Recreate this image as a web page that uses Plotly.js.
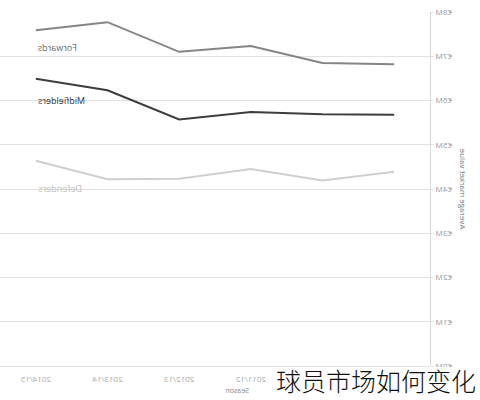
<!DOCTYPE html>
<html>
<head>
<meta charset="utf-8">
<script src="https://cdn.plot.ly/plotly-3.0.1.min.js"></script>
<style>
  body { margin: 0; background: #fff; }
  /* the reference picture is a mirrored screenshot, so the plot is flipped */
  #chart { width: 480px; height: 400px; transform: scaleX(-1); }
  #caption {
    position: absolute; left: 274px; top: 367px;
    background: #fff; color: #111;
    font-family: "Noto Sans CJK SC", sans-serif; font-weight: 300;
    font-size: 25px; line-height: 26px; padding: 0 0 0 2px;
  }
</style>
</head>
<body>
<div id="chart"></div>
<div id="caption">球员市场如何变化</div>
<script>
// seasons, oldest first
var seasons = ['2009/10', '2010/11', '2011/12', '2012/13', '2013/14', '2014/15'];

// average market value in millions of euros
var forwards    = [6.82, 6.85, 7.23, 7.10, 7.77, 7.59];
var midfielders = [5.68, 5.69, 5.74, 5.57, 6.23, 6.49];
var defenders   = [4.39, 4.19, 4.45, 4.23, 4.22, 4.64];

var yTicks = [0, 1, 2, 3, 4, 5, 6, 7, 8];
var yTickText = ['€0M', '€1M', '€2M', '€3M', '€4M', '€5M', '€6M', '€7M', '€8M'];

var seriesNames = ['Forwards', 'Midfielders', 'Defenders'];
var seriesColors = ['#858585', '#3d3d3d', '#cfcfcf'];
var labelColors = ['#6a6a6a', '#333333', '#bdbdbd'];
var labelY = [7.19, 6.01, 4.02];

var allSeries = [forwards, midfielders, defenders];
var traces = [];
var notes = [];
for (var i = 0; i < allSeries.length; i++) {
    traces.push({
        x: seasons,
        y: allSeries[i],
        type: 'scatter',
        mode: 'lines',
        name: seriesNames[i],
        line: {color: seriesColors[i], width: 2}
    });
    notes.push({
        x: seasons[seasons.length - 1],
        y: labelY[i],
        xref: 'x', yref: 'y',
        text: seriesNames[i],
        showarrow: false,
        xanchor: 'right',
        yanchor: 'middle',
        font: {family: 'Open Sans, sans-serif', size: 9, color: labelColors[i]}
    });
}

// axis title for x, placed like the picture
notes.push({
    x: 0.449, y: -0.087, xref: 'paper', yref: 'paper',
    text: 'Season', showarrow: false,
    font: {family: 'Open Sans, sans-serif', size: 7, color: '#888'}
});

var layout = {
    width: 480,
    height: 400,
    margin: {l: 50, r: 0, t: 12, b: 34},
    showlegend: false,
    paper_bgcolor: '#fff',
    plot_bgcolor: '#fff',
    font: {family: 'Open Sans, sans-serif', color: '#999'},
    xaxis: {
        type: 'category',
        range: [-0.5, 5.5],
        showgrid: false,
        zeroline: false,
        showline: false,
        ticks: 'outside',
        ticklen: 5,
        tickcolor: 'rgba(0,0,0,0)',
        tickfont: {size: 8, color: '#aaa'}
    },
    yaxis: {
        range: [0, 8],
        tickvals: yTicks,
        ticktext: yTickText,
        showgrid: true,
        gridcolor: '#e2e2e2',
        gridwidth: 1,
        zeroline: true,
        zerolinecolor: '#e2e2e2',
        zerolinewidth: 1,
        showline: true,
        linecolor: '#d8d8d8',
        ticks: 'outside',
        ticklen: 3,
        tickcolor: '#e2e2e2',
        tickfont: {size: 8, color: '#999'},
        title: {text: 'Average market value', font: {size: 8, color: '#777'}, standoff: 6}
    },
    annotations: notes
};

Plotly.newPlot('chart', traces, layout, {displayModeBar: false, staticPlot: true});
</script>
</body>
</html>
